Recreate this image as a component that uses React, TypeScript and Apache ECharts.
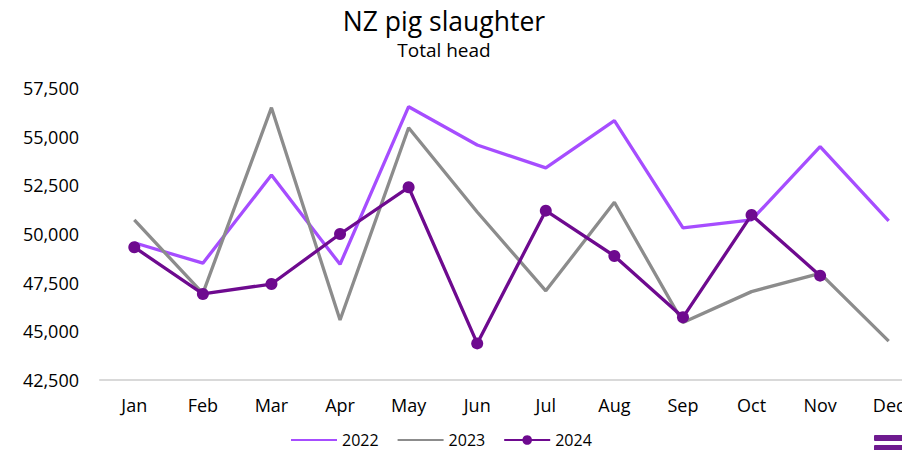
import React, { useEffect, useRef } from "react";
import * as echarts from "echarts";

const months = ["Jan", "Feb", "Mar", "Apr", "May", "Jun", "Jul", "Aug", "Sep", "Oct", "Nov", "Dec"];
const s2022 = [49550, 48500, 53030, 48440, 56540, 54570, 53400, 55820, 50320, 50720, 54490, 50670];
const s2023 = [50720, 46950, 56490, 45580, 55460, 51130, 47080, 51630, 45450, 47040, 47980, 44500];
const s2024: (number | null)[] = [49320, 46920, 47430, 50000, 52400, 44380, 51200, 48870, 45720, 50980, 47860, null];

const FONT = "Open Sans";

export default function App() {
  const ref = useRef<HTMLDivElement>(null);
  useEffect(() => {
    if (!ref.current) return;
    const chart = echarts.init(ref.current, undefined, { renderer: "svg" });
    chart.setOption({
      animation: false,
      backgroundColor: "#ffffff",
      textStyle: { fontFamily: FONT },
      title: {
        text: "NZ pig slaughter",
        subtext: "Total head",
        left: 439,
        top: 2,
        textAlign: "center",
        itemGap: 6,
        textStyle: { fontFamily: FONT, fontSize: 26.5, fontWeight: "normal", color: "#000000" },
        subtextStyle: { fontFamily: FONT, fontSize: 19, color: "#000000" },
      },
      legend: {
        left: 290,
        top: 432,
        padding: 0,
        itemWidth: 46,
        itemHeight: 12,
        itemGap: 18,
        textStyle: { fontFamily: FONT, fontSize: 16, color: "#000000" },
        data: [
          { name: "2022", itemStyle: { opacity: 0 } },
          { name: "2023", itemStyle: { opacity: 0 } },
          { name: "2024" },
        ],
      },
      grid: { left: 100, right: 7, top: 88, bottom: 90, containLabel: false },
      xAxis: {
        type: "category",
        data: months,
        boundaryGap: true,
        axisLine: { lineStyle: { color: "#d9d9d9", width: 2 } },
        axisTick: { show: false },
        axisLabel: { fontFamily: FONT, fontSize: 18, color: "#000000", margin: 16 },
      },
      yAxis: {
        type: "value",
        min: 42500,
        max: 57500,
        interval: 2500,
        axisLine: { show: false },
        axisTick: { show: false },
        splitLine: { show: false },
        axisLabel: {
          fontFamily: FONT,
          fontSize: 18,
          color: "#000000",
          margin: 21,
          formatter: (v: number) => v.toLocaleString("en-US"),
        },
      },
      series: [
        {
          name: "2022",
          type: "line",
          data: s2022,
          symbol: "none",
          lineStyle: { color: "#a64dff", width: 3.3 },
          itemStyle: { color: "#a64dff" },
        },
        {
          name: "2023",
          type: "line",
          data: s2023,
          symbol: "none",
          lineStyle: { color: "#8c8c8c", width: 3.3 },
          itemStyle: { color: "#8c8c8c" },
        },
        {
          name: "2024",
          type: "line",
          data: s2024,
          symbol: "circle",
          symbolSize: 12,
          lineStyle: { color: "#6e0a8f", width: 3.3 },
          itemStyle: { color: "#6e0a8f" },
        },
      ],
      graphic: [
        { type: "rect", left: 874, top: 435, shape: { width: 30, height: 6, r: 1 }, style: { fill: "#6e1a8f" } },
        { type: "rect", left: 874, top: 445, shape: { width: 30, height: 6, r: 1 }, style: { fill: "#6e1a8f" } },
      ],
    });
    return () => chart.dispose();
  }, []);
  return (
    <div
      style={{ position: "fixed", left: 0, top: 0, width: 902, height: 450, overflow: "hidden", background: "#fff" }}
    >
      <div ref={ref} style={{ width: 930, height: 470 }} />
    </div>
  );
}
